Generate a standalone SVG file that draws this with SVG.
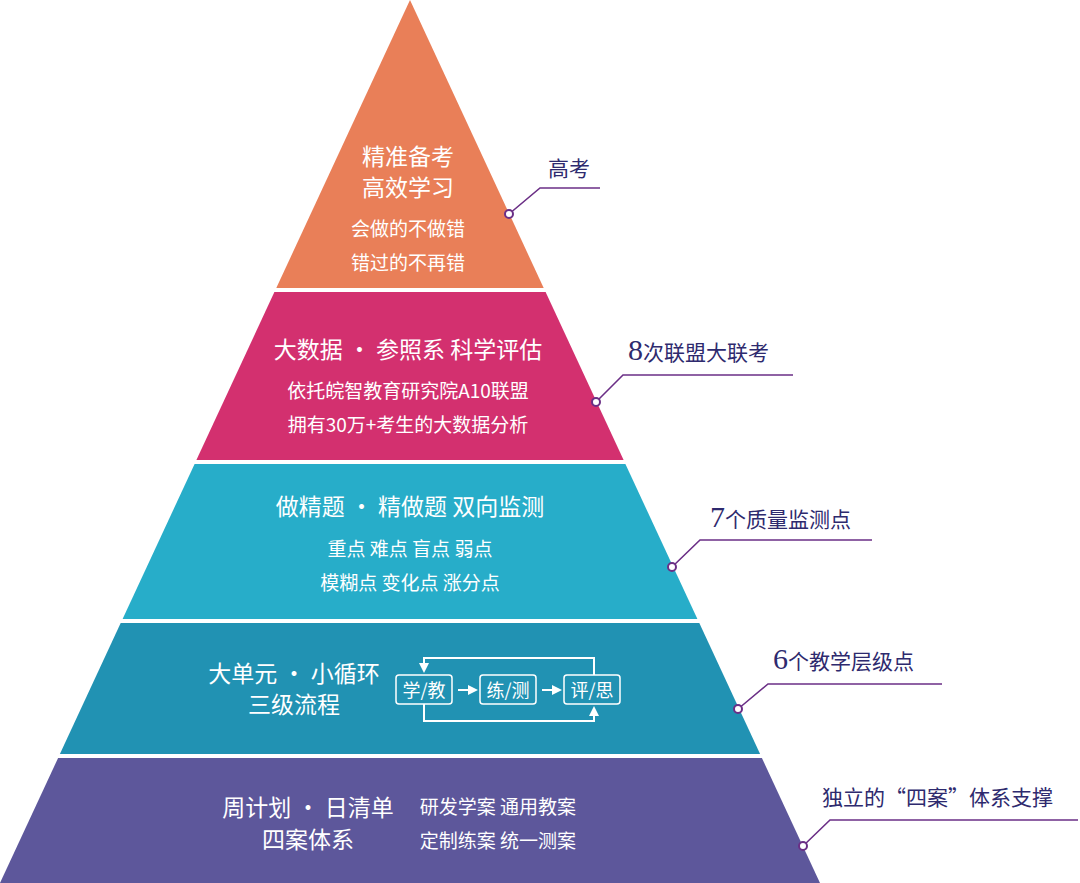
<svg xmlns="http://www.w3.org/2000/svg" width="1080" height="883" viewBox="0 0 1080 883">
<defs>
<style>
.t{font-family:"Noto Sans CJK SC","Noto Sans",sans-serif;fill:#fff;text-anchor:middle}
.c{font-family:"Noto Sans CJK SC","Noto Sans",sans-serif;fill:#2E2A6E;font-size:21px}
.n{font-family:"Liberation Serif",serif;font-size:30px}
.ln{fill:none;stroke:#6B2F86;stroke-width:1.6}
.dot{fill:#fff;stroke:#6B2F86;stroke-width:2}
.fb{fill:none;stroke:#fff;stroke-width:1.5}
.fl{fill:none;stroke:#fff;stroke-width:2}
</style>
<marker id="ah" viewBox="0 0 10 10" refX="8" refY="5" markerWidth="5" markerHeight="5" orient="auto"><path d="M0,0L10,5L0,10z" fill="#fff"/></marker>
</defs>
<rect width="1080" height="883" fill="#fff"/>
<g id="layer1"><polygon points="410,0 543.7,288 276.3,288" fill="#E97F58"/>
<text class="t" x="408" y="165" font-size="23">精准备考</text>
<text class="t" x="408" y="196" font-size="23">高效学习</text>
<text class="t" x="408" y="236" font-size="19">会做的不做错</text>
<text class="t" x="408" y="270" font-size="19">错过的不再错</text></g>
<g id="layer2"><polygon points="274.4,292 545.6,292 623.6,460 196.4,460" fill="#D3306F"/>
<text class="t" x="408" y="358" font-size="23">大数据 · 参照系 科学评估</text>
<text class="t" x="408" y="398" font-size="19">依托皖智教育研究院A10联盟</text>
<text class="t" x="408" y="432" font-size="19">拥有30万+考生的大数据分析</text></g>
<g id="layer3"><polygon points="194.6,464 625.4,464 697.4,619 122.6,619" fill="#27ADC9"/>
<text class="t" x="410" y="515" font-size="23">做精题 · 精做题 双向监测</text>
<text class="t" x="410" y="556" font-size="19">重点 难点 盲点 弱点</text>
<text class="t" x="410" y="590" font-size="19">模糊点 变化点 涨分点</text></g>
<g id="layer4"><polygon points="120.7,623 699.3,623 760.1,754 59.9,754" fill="#2192B3"/>
<text class="t" x="294" y="682" font-size="23">大单元 · 小循环</text>
<text class="t" x="294" y="713" font-size="23">三级流程</text>
<rect class="fb" x="396" y="675" width="56" height="29" rx="3"/>
<rect class="fb" x="480" y="675" width="56" height="29" rx="3"/>
<rect class="fb" x="564" y="675" width="56" height="29" rx="3"/>
<text class="t" x="424" y="697" font-size="18">学/教</text>
<text class="t" x="508" y="697" font-size="18">练/测</text>
<text class="t" x="592" y="697" font-size="18">评/思</text>
<path class="fl" d="M458,690H476" marker-end="url(#ah)"/>
<path class="fl" d="M542,690H560" marker-end="url(#ah)"/>
<path class="fl" d="M594,675V658H424V671" marker-end="url(#ah)"/>
<path class="fl" d="M424,704V721H594V708" marker-end="url(#ah)"/></g>
<g id="layer5"><polygon points="58.1,758 761.9,758 820,883 0,883" fill="#5D579B"/>
<text class="t" x="308" y="816" font-size="23">周计划 · 日清单</text>
<text class="t" x="308" y="848" font-size="23">四案体系</text>
<text class="t" x="498" y="814" font-size="19">研发学案 通用教案</text>
<text class="t" x="498" y="848" font-size="19">定制练案 统一测案</text></g>
<g id="connectors">
<path class="ln" d="M509,214L540,188H600"/><circle class="dot" cx="509" cy="214" r="4"/>
<path class="ln" d="M596,402L623,375H793"/><circle class="dot" cx="596" cy="402" r="4"/>
<path class="ln" d="M672,567L700,540H872"/><circle class="dot" cx="672" cy="567" r="4"/>
<path class="ln" d="M738,709L768,684H942"/><circle class="dot" cx="738" cy="709" r="4"/>
<path class="ln" d="M803,846L830,820H1078"/><circle class="dot" cx="803" cy="846" r="4"/>
</g>
<g id="labels">
<text class="c" x="548" y="176">高考</text>
<text class="c" x="628" y="360"><tspan class="n">8</tspan>次联盟大联考</text>
<text class="c" x="710" y="527"><tspan class="n">7</tspan>个质量监测点</text>
<text class="c" x="773" y="669"><tspan class="n">6</tspan>个教学层级点</text>
<text class="c" x="822" y="805" font-size="20">独立的“四案”体系支撑</text>
</g>
</svg>
